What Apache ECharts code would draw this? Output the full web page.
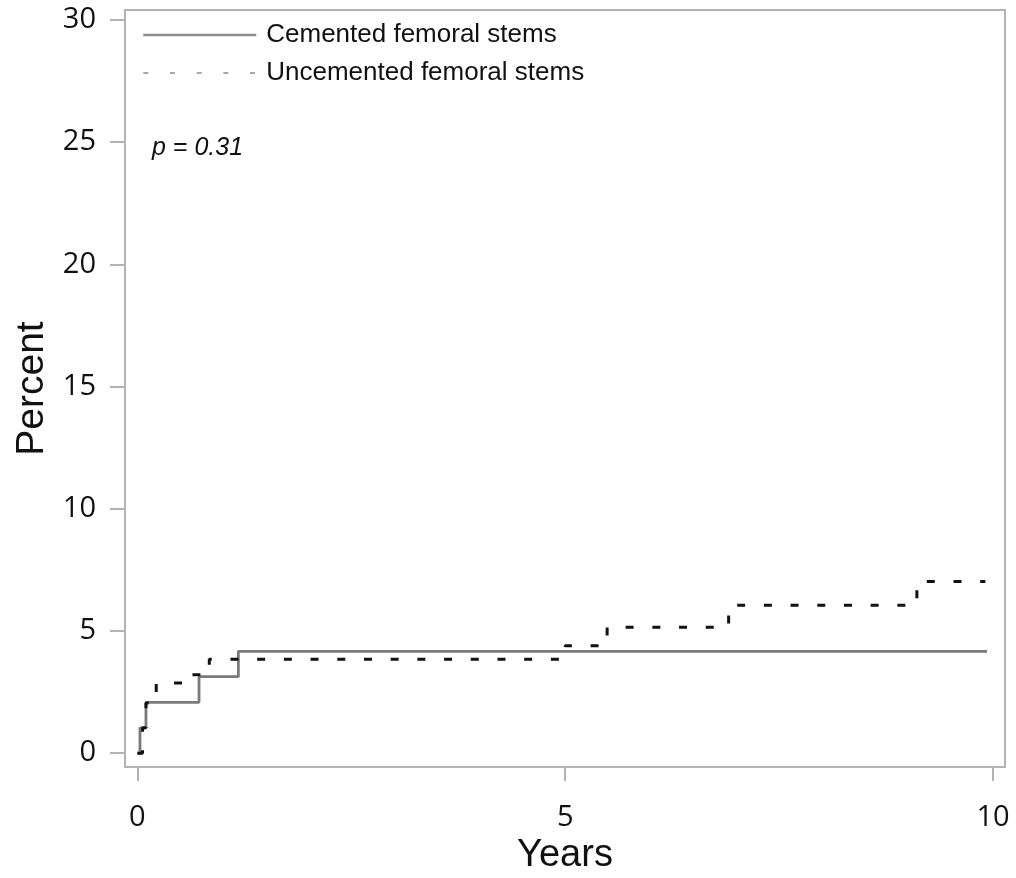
<!DOCTYPE html>
<html>
<head>
<meta charset="utf-8">
<script src="https://cdn.jsdelivr.net/npm/echarts@6/dist/echarts.min.js"></script>
<style>
  html, body { margin: 0; padding: 0; background: #fff; }
  #chart { width: 1016px; height: 878px; }
</style>
</head>
<body>
<div id="chart"></div>
<script>
// ---- data ----
const seriesNames = ['Cemented femoral stems', 'Uncemented femoral stems'];
// step functions: [years, percent] at each event (value holds until next point)
const cementedYears   = [0, 0.03, 0.06, 0.10, 0.72, 1.18, 9.93];
const cementedPercent = [0, 1.04, 1.04, 2.08, 3.13, 4.17, 4.17];
const uncementedYears   = [0, 0.03, 0.06, 0.10, 0.15, 0.22, 0.60, 0.84, 5.00, 5.49, 6.91, 9.11, 9.91];
const uncementedPercent = [0, 0.00, 1.04, 2.05, 2.47, 2.87, 3.21, 3.84, 4.40, 5.15, 6.05, 7.03, 7.03];
const xTicks = [0, 5, 10];
const yTicks = [0, 5, 10, 15, 20, 25, 30];
const pValueText = 'p = 0.31';

const pair = (xs, ys) => xs.map((x, i) => [x, ys[i]]);

const axisGray = '#b3b3b3';
const textColor = '#111111';

const chart = echarts.init(document.getElementById('chart'), null, { renderer: 'canvas' });
chart.setOption({
  animation: false,
  backgroundColor: '#ffffff',
  grid: {
    left: 125, right: 11, top: 10, bottom: 111,
    outerBoundsMode: 'none', containLabel: false,
    show: true, borderColor: axisGray, borderWidth: 2, backgroundColor: 'transparent'
  },
  title: {
    text: pValueText,
    left: 147, top: 131,
    textStyle: { fontFamily: 'Liberation Sans, Arial, sans-serif', fontStyle: 'italic', fontWeight: 'normal', fontSize: 25, color: textColor }
  },
  legend: {
    orient: 'vertical',
    left: 137, top: 17,
    itemWidth: 113, itemHeight: 14, itemGap: 12,
    selectedMode: false,
    textStyle: { fontFamily: 'Liberation Sans, Arial, sans-serif', fontSize: 26, color: textColor, padding: [0, 0, 0, 5] },
    data: [
      { name: seriesNames[0], itemStyle: { opacity: 0 }, lineStyle: { color: '#8c8c8c', width: 2.5, type: 'solid' } },
      { name: seriesNames[1], itemStyle: { opacity: 0 }, lineStyle: { color: '#8c8c8c', width: 1.6, type: [5, 21.7] } }
    ]
  },
  xAxis: {
    type: 'value',
    min: -0.145, max: 10.14,
    name: 'Years', nameLocation: 'middle', nameGap: 70,
    nameTextStyle: { fontFamily: 'Liberation Sans, Arial, sans-serif', fontSize: 38, color: textColor },
    axisLine: { show: true, onZero: false, lineStyle: { color: axisGray, width: 2 } },
    axisTick: { show: true, inside: false, length: 14, customValues: xTicks, lineStyle: { color: axisGray, width: 2 } },
    axisLabel: { customValues: xTicks, margin: 36, fontFamily: 'Open Sans, sans-serif', fontSize: 29, color: textColor },
    splitLine: { show: false }
  },
  yAxis: {
    type: 'value',
    min: -0.565, max: 30.41,
    name: 'Percent', nameLocation: 'middle', nameGap: 70,
    nameTextStyle: { fontFamily: 'Liberation Sans, Arial, sans-serif', fontSize: 39, color: textColor },
    axisLine: { show: true, onZero: false, lineStyle: { color: axisGray, width: 2 } },
    axisTick: { show: true, inside: false, length: 15, customValues: yTicks, lineStyle: { color: axisGray, width: 2 } },
    axisLabel: { customValues: yTicks, margin: 29, padding: [5, 0, 0, 0], fontFamily: 'Open Sans, sans-serif', fontSize: 29, color: textColor },
    splitLine: { show: false }
  },
  series: [
    {
      name: seriesNames[0], type: 'line', step: 'end', symbol: 'none', z: 2,
      data: pair(cementedYears, cementedPercent),
      lineStyle: { color: '#7a7a7a', width: 2.8, type: 'solid' },
      itemStyle: { color: '#7a7a7a' }
    },
    {
      name: seriesNames[1], type: 'line', step: 'end', symbol: 'none', z: 3,
      data: pair(uncementedYears, uncementedPercent),
      lineStyle: { color: '#111111', width: 3, type: [8, 18.7] },
      itemStyle: { color: '#111111' }
    }
  ]
});
</script>
</body>
</html>
